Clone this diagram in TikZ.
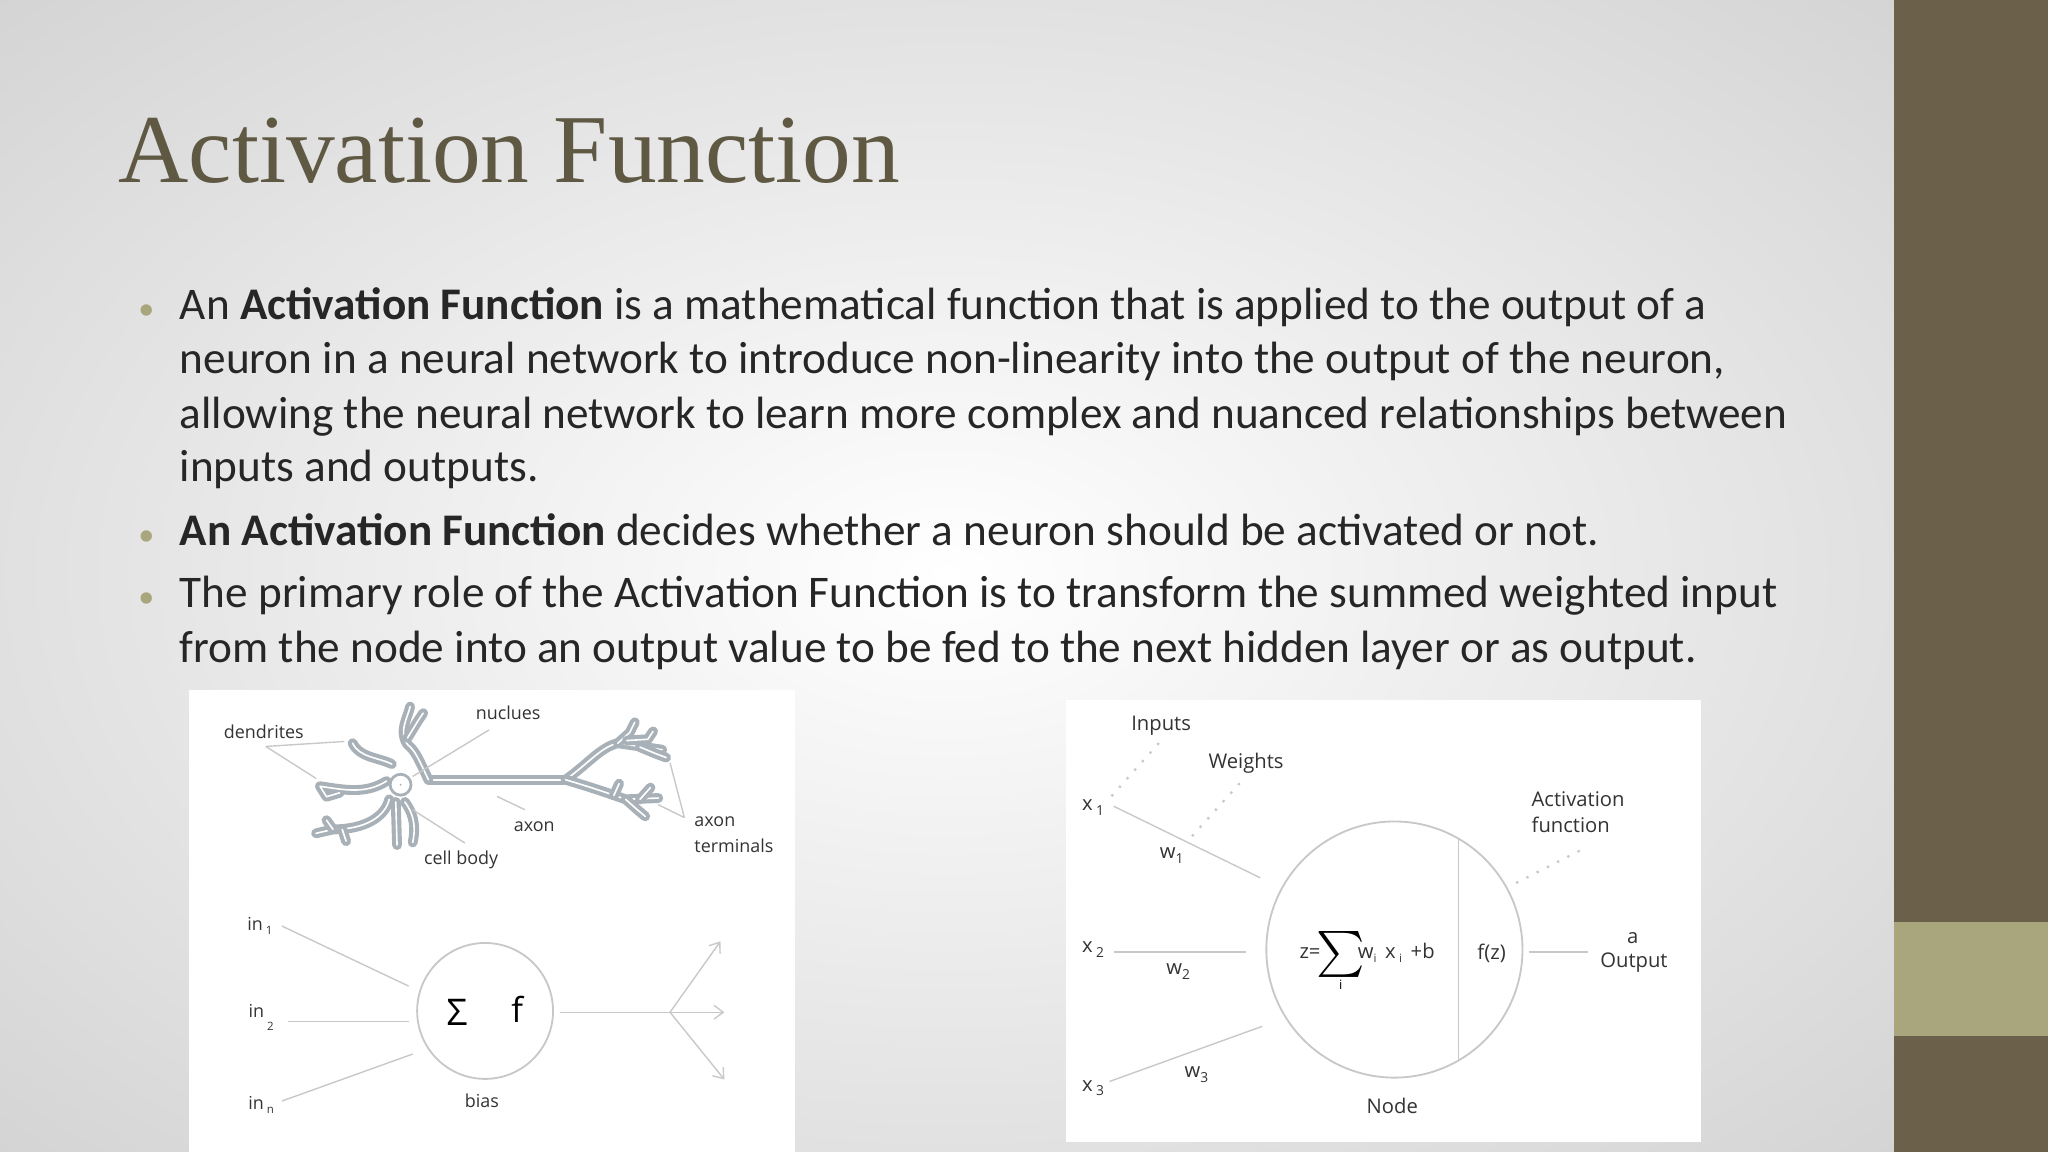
\documentclass[tikz,border=0pt]{standalone}
\usepackage{fontspec}
\setmainfont{Carlito}
\newfontfamily\titlefont{Liberation Serif}
\newfontfamily\lab{Open Sans}
\usetikzlibrary{arrows.meta}
\definecolor{titlec}{HTML}{5F5843}
\definecolor{barc}{HTML}{6B604A}
\definecolor{barl}{HTML}{A9A57C}
\definecolor{txt}{HTML}{262626}
\definecolor{ln}{HTML}{C8C8C8}
\definecolor{neur}{HTML}{A9B1B8}
\tikzset{
 body/.style={anchor=base west,inner sep=0,text=txt,font=\fontsize{9.85}{11}\selectfont},
 bul/.style={anchor=base,inner sep=0,text=barl,font=\fontsize{7}{8}\selectfont},
 lbl/.style={inner sep=0,text=black!80,font=\lab\fontsize{3.9}{4.5}\selectfont},
 rlbl/.style={inner sep=0,text=black!80,font=\lab\fontsize{4.4}{5.2}\selectfont},
 thin/.style={draw=ln,line width=0.3pt},
 dot/.style={draw=ln,line width=0.5pt,dotted},
 nv/.style={draw=neur,line width=0.9pt,double=white,double distance=0.35pt,line cap=round,line join=round},
 arr/.style={thin,-{Straight Barb[length=2pt,width=3pt]}}
}
\begin{document}
\begin{tikzpicture}[x=0.01cm,y=-0.01cm]
\useasboundingbox (0,0) rectangle (1568,882);
\shade[inner color=white,outer color=black!17] (-300,-200) rectangle (1750,1080);
\fill[barc] (1450,0) rectangle (1568,882);
\fill[barl] (1450,706) rectangle (1568,793);
\node[anchor=base west,inner sep=0,text=titlec,font=\titlefont\fontsize{21.2}{24}\selectfont] (title) at (90,140) {Activation Function};
% bullets
\node[bul] (b1) at (112,245) {•};
\node[bul] (b2) at (112,418) {•};
\node[bul] (b3) at (112,465) {•};
\node[body] (l1) at (137,245) {An \textbf{Activation Function} is a mathematical function that is applied to the output of a};
\node[body] (l2) at (137,286) {neuron in a neural network to introduce non-linearity into the output of the neuron,};
\node[body] (l3) at (137,328) {allowing the neural network to learn more complex and nuanced relationships between};
\node[body] (l4) at (137,369) {inputs and outputs.};
\node[body] (l5) at (137,418) {\textbf{An Activation Function} decides whether a neuron should be activated or not.};
\node[body] (l6) at (137,465) {The primary role of the Activation Function is to transform the summed weighted input};
\node[body] (l7) at (137,507) {from the node into an output value to be fed to the next hidden layer or as output.};
% panels
\fill[white] (145,528) rectangle (609,882);
\fill[white] (816,536) rectangle (1302,874);
% neuron drawing
\draw[nv] (328,597) -- (433,597);
\draw[nv] (433,597) .. controls (450,585) and (460,572) .. (473,569) -- (507,574);
\draw[nv] (473,569) -- (482,561) -- (486,553);
\draw[nv] (480,567) -- (496,566) -- (500,560);
\draw[nv] (490,572) -- (502,577) -- (510,580);
\draw[nv] (433,597) .. controls (450,602) and (465,607) .. (479,612) -- (504,611);
\draw[nv] (479,612) -- (488,620) -- (494,625);
\draw[nv] (470,609) -- (474,600) ;
\draw[nv] (490,612) -- (498,603);
\draw[nv] (328,597) .. controls (320,580) and (318,575) .. (312,570) .. controls (305,560) and (312,550) .. (314,541);
\draw[nv] (312,565) -- (320,552) -- (324,546);
\draw[nv] (300,585) .. controls (290,580) and (275,580) .. (270,569);
\draw[nv] (296,598) .. controls (280,608) and (265,605) .. (245,602) -- (250,610) -- (260,607);
\draw[nv] (298,612) .. controls (295,625) and (280,635) .. (255,635) -- (242,638);
\draw[nv] (255,635) -- (250,628);
\draw[nv] (262,635) -- (265,644);
\draw[nv] (303,614) -- (304,647);
\draw[nv] (310,614) .. controls (318,625) and (318,635) .. (316,645);
\draw[neur,line width=0.6pt] (306.7,600.8) circle (8);
\fill[neur] (306.7,600.8) circle (0.8);
% pointer lines
\coordinate (dd) at (203.5,571.5);
\draw[thin] (dd) -- (263.6,567.7);
\draw[thin] (dd) -- (242,596);
\draw[thin] (374.5,558.8) -- (315.9,594.5);
\draw[thin] (356,645.5) -- (316,620);
\draw[thin] (380.6,609.8) -- (402,620);
\coordinate (at) at (524,626);
\draw[thin] (513,584) -- (at);
\draw[thin] (503.8,616) -- (at);
\node[lbl] (ldend) at (202,560) {dendrites};
\node[lbl] (lnuc) at (389,546) {nuclues};
\node[lbl] (lcell) at (353,658) {cell body};
\node[lbl] (laxon) at (409,633) {axon};
\node[lbl,anchor=west,align=left] (lterm) at (531,639) {axon\\[1pt]terminals};
% simple neuron model
\node[circle,draw=ln,line width=0.4pt,minimum size=1.04cm,inner sep=0] (cell) at (371.4,774) {};
\node[inner sep=0,font=\lab\fontsize{8}{9}\selectfont] (sig) at (350,775) {Σ};
\node[inner sep=0,font=\lab\fontsize{7.5}{9}\selectfont] (ff) at (396,773) {f};
\node[lbl] (in1) at (199,709) {in\,\raisebox{-1pt}{\fontsize{2.5}{3}\selectfont 1}};
\node[lbl] (in2) at (200,779) {in\,\raisebox{-3pt}{\fontsize{2.5}{3}\selectfont 2}};
\node[lbl] (inn) at (200,846) {in\,\raisebox{-1pt}{\fontsize{2.5}{3}\selectfont n}};
\node[lbl] (bias) at (369,843) {bias};
\draw[thin] (215.8,709) -- (312.9,755);
\draw[thin] (220.5,782) -- (313,782);
\draw[thin] (215.8,843) -- (316,807);
\coordinate (br) at (513,775);
\coordinate (o1) at (551.6,720.7);
\coordinate (o2) at (554.6,775);
\coordinate (o3) at (554.6,826.5);
\draw[thin] (428.4,775) -- (br);
\draw[arr] (br) -- (o1);
\draw[arr] (br) -- (o2);
\draw[arr] (br) -- (o3);
% right panel
\node[circle,draw=ln,line width=0.4pt,minimum size=1.96cm,inner sep=0] (node) at (1067.6,727) {};
\draw[thin] (1116.5,642) -- (1116.5,812.6);
\node[rlbl] (x1) at (836.9,618.5) {x\,\raisebox{-1pt}{\fontsize{3}{3}\selectfont 1}};
\node[rlbl] (x2) at (836.9,727) {x\,\raisebox{-1pt}{\fontsize{3}{3}\selectfont 2}};
\node[rlbl] (x3) at (836.9,833) {x\,\raisebox{-1pt}{\fontsize{3}{3}\selectfont 3}};
\draw[thin] (852.7,617.3) -- (964.9,672.1);
\draw[thin] (852.7,729) -- (953.8,729);
\draw[thin] (849.5,828) -- (966.4,785.8);
\node[rlbl] (w1) at (897,655) {w\raisebox{-1pt}{\fontsize{3}{3}\selectfont 1}};
\node[rlbl] (w2) at (902,744) {w\raisebox{-1pt}{\fontsize{3}{3}\selectfont 2}};
\node[rlbl] (w3) at (916,823) {w\raisebox{-1pt}{\fontsize{3}{3}\selectfont 3}};
\node[rlbl] (inp) at (889,556) {Inputs};
\node[rlbl] (wts) at (954,584) {Weights};
\draw[dot] (851,609.6) -- (887.4,568.8);
\draw[dot] (912.7,640.2) -- (950.6,598.1);
\node[rlbl,anchor=west,align=left] (actf) at (1172,622) {Activation\\[0.5pt]function};
\draw[dot] (1160.8,676) -- (1211.3,650.4);
\node[rlbl] (zeq) at (1003,729.6) {z=};
\node[inner sep=0,font=\fontsize{6.5}{7}\selectfont] (bsig) at (1026.5,731) {$\sum$};
\node[inner sep=0,font=\lab\fontsize{2.8}{3}\selectfont] (si) at (1026.5,754) {i};
\node[rlbl,anchor=west] (wx) at (1039,729.6) {w\raisebox{-1pt}{\fontsize{2.5}{3}\selectfont i}\, x\,\raisebox{-1pt}{\fontsize{2.5}{3}\selectfont i}\, +b};
\node[rlbl] (fz) at (1142,729.6) {f(z)};
\draw[thin] (1170.3,729) -- (1216,729);
\node[rlbl] (aa) at (1250,718) {a};
\node[rlbl] (out) at (1251,737) {Output};
\node[rlbl] (nodel) at (1066,847) {Node};
\end{tikzpicture}
\end{document}
